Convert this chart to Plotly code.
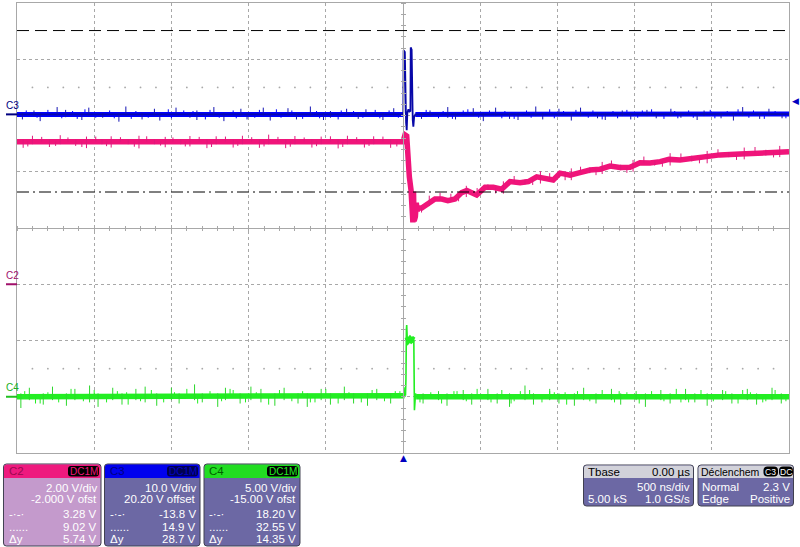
import numpy as np
import plotly.graph_objects as go

# ---------------- data (time in ns, values in volts) ----------------
# C3 (blue, 10 V/div, offset 20.2 V)
blue_t = [-2500, -1500, -500, 0, 2, 4, 12, 14, 20, 24, 28, 35, 42, 48, 50, 56, 58, 63, 67, 72, 80, 500, 1500, 2500]
blue_v = [0.0, 0.05, 0.0, 0.0, 0.3, 11.4, 11.1, 4.0, -1.5, -2.8, 0.2, 0.9, 0.5, 0.6, 11.9, 11.5, 5.0, -1.0, -2.2, -0.5, 0.0, 0.0, 0.05, 0.05]

# C2 (pink, 2 V/div, offset -2 V)
pink_t = [-2500, -2000, -1500, -1000, -500, 0, 13, 24, 30, 41, 52, 60, 64, 68, 72, 76, 80, 86, 92, 97,
          121, 162, 207, 251, 291, 337, 380, 413, 453, 477, 531, 585, 639, 693, 758, 812, 866, 931, 973,
          1017, 1082, 1146, 1211, 1276, 1341, 1405, 1470, 1535, 1600, 1665, 1723, 1794, 1891, 1988, 2053,
          2183, 2312, 2409, 2500]
pink_v = [5.07, 5.06, 5.08, 5.06, 5.07, 5.07, 5.31, 5.27, 4.42, 3.82, 3.35, 2.6, 2.2, 3.3, 2.25, 3.1, 2.4, 2.9, 2.6, 2.71,
          2.71, 2.89, 3.03, 3.03, 2.97, 3.03, 3.26, 3.33, 3.21, 3.17, 3.45, 3.45, 3.38, 3.65, 3.61, 3.65, 3.82, 3.74, 3.71,
          3.95, 3.88, 3.97, 4.06, 4.09, 4.20, 4.15, 4.16, 4.32, 4.31, 4.36, 4.44, 4.42, 4.49, 4.52, 4.60,
          4.63, 4.68, 4.71, 4.71]

# C4 (green, 5 V/div, offset -15 V)
green_t = [-2500, -1500, -500, 0, 10, 13, 16, 19, 22, 24, 27, 35, 45, 55, 65, 70, 72, 74, 77, 81, 85, 500, 1500, 2500]
green_v = [0.0, 0.02, 0.0, 0.0, 0.1, 0.85, 0.1, 1.5, 6.0, 6.38, 5.3, 5.0, 5.15, 5.0, 5.1, 5.05, 2.0, -1.2, -0.6, 0.3, 0.0, 0.0, 0.02, 0.0]

# larger visible noise spikes (time, low, high)
blue_spk_t = [-2465, -2390, -2350, -2240, -2185, -2080, -2035, -1945, -1840, -1795, -1690, -1610, -1575, -1470, -1380, -1335,
              -1225, -1160, -1050, -1010, -905, -860, -745, -690, -600, -515, -470, -365, -290, -240, -130, -60,
              120, 175, 290, 340, 455, 520, 600, 690, 745, 860, 905, 1010, 1090, 1150, 1260, 1310, 1420, 1475,
              1580, 1640, 1735, 1800, 1905, 1950, 2060, 2140, 2200, 2310, 2370, 2455]
blue_spk_lo = [-0.9, -0.3, -1.2, -0.3, -0.5, -1.0, -0.3, -0.6, -1.3, -0.3, -0.9, -0.3, -1.1, -0.3, -0.6, -1.0,
               -0.3, -1.2, -0.3, -0.9, -0.3, -1.1, -0.3, -0.9, -0.3, -1.0, -0.6, -0.3, -0.8, -0.3, -1.0, -0.3,
               -0.8, -0.3, -0.6, -0.9, -0.3, -1.2, -0.3, -0.8, -1.0, -0.3, -0.9, -0.3, -1.1, -0.3, -0.7, -1.0, -0.3, -0.9,
               -0.3, -0.7, -0.3, -0.6, -1.0, -0.3, -0.7, -1.1, -0.3, -0.8, -0.3, -0.7]
blue_spk_hi = [0.3, 0.7, 0.3, 1.3, 0.8, 0.3, 1.2, 0.3, 0.3, 1.4, 0.3, 1.0, 0.3, 1.2, 0.3, 0.7,
               1.3, 0.3, 1.0, 0.3, 1.2, 0.3, 1.1, 0.3, 1.4, 0.3, 0.6, 1.0, 0.3, 0.9, 0.3, 1.1,
               0.3, 0.7, 1.3, 0.3, 1.1, 0.3, 1.2, 0.3, 0.3, 1.4, 0.3, 1.0, 0.3, 1.2, 0.3, 0.3, 0.7, 0.3,
               0.8, 0.3, 1.0, 0.3, 0.3, 0.7, 0.3, 0.3, 1.3, 0.3, 1.0, 0.3]
# smaller spikes: time and tip value (segment from baseline 0 to tip)
blue_minor_t = [-2440, -2370, -2300, -2210, -2140, -2110, -2060, -1990, -1900, -1870,
                -1760, -1730, -1650, -1520, -1500, -1420, -1360, -1280, -1250, -1190,
                -1100, -1080, -960, -930, -820, -790, -720, -650, -560, -540,
                -420, -400, -320, -260, -180, -150, -90, -30,
                150, 230, 260, 320, 390, 420, 490, 560, 640, 660,
                720, 800, 830, 950, 980, 1040, 1120, 1200, 1230, 1290,
                1360, 1390, 1450, 1520, 1550, 1610, 1690, 1760, 1780, 1850,
                1880, 1990, 2020, 2100, 2170, 2240, 2270, 2340, 2410, 2480]
blue_minor_tip = [0.7, -0.6, 0.8, -0.7, 0.6, -0.8, 0.9, -0.6, 0.7, -0.7,
                  -0.8, 0.6, -0.6, 0.9, -0.7, 0.7, 0.6, -0.9, 0.8, -0.6,
                  0.7, -0.7, -0.6, 0.8, 0.9, -0.6, 0.7, -0.8, 0.6, -0.7,
                  -0.9, 0.7, 0.6, -0.6, 0.8, -0.7, 0.7, -0.6,
                  0.8, -0.7, 0.6, -0.8, 0.7, 0.9, -0.6, 0.7, -0.7, 0.6,
                  -0.8, 0.7, -0.6, 0.9, -0.7, 0.6, 0.8, -0.6, 0.7, -0.9,
                  0.6, -0.7, 0.8, -0.6, 0.7, 0.9, -0.8, 0.6, -0.7, 0.7,
                  -0.6, 0.8, -0.7, 0.6, 0.9, -0.6, 0.7, -0.8, 0.6, -0.7]

pink_spk_t = [-2460, -2400, -2290, -2220, -2120, -2050, -1950, -1890, -1780, -1710, -1610, -1540, -1440, -1380, -1270,
              -1210, -1100, -1040, -930, -870, -760, -700, -590, -530, -420, -360, -250, -190, -80,
              170, 310, 410, 550, 650, 790, 890, 1010, 1090, 1210, 1290, 1410, 1490, 1630, 1730, 1870, 1970,
              2110, 2210, 2350, 2440,
              -2430, -2340, -2250, -2170, -2080, -1990, -1920, -1830, -1740, -1660,
              -1570, -1490, -1410, -1320, -1240, -1150, -1070, -980, -900, -810,
              -730, -640, -560, -470, -390, -300, -220, -130, -40,
              120, 240, 360, 480, 600, 720, 840, 950, 1050, 1150, 1250, 1350, 1450, 1560, 1680, 1800, 1920,
              2040, 2160, 2280, 2400]
pink_spk_lo = [4.85, 4.98, 4.88, 4.98, 4.92, 4.84, 4.98, 4.86, 4.98, 4.83, 4.98, 4.87, 4.98, 4.90, 4.84,
               4.98, 4.86, 4.98, 4.85, 4.98, 4.84, 4.98, 4.86, 4.98, 4.83, 4.98, 4.86, 4.98, 4.85,
               2.78, 3.0, 3.10, 3.35, 3.22, 3.55, 3.58, 3.78, 3.70, 3.95, 3.92, 4.05, 4.00, 4.22, 4.22, 4.37, 4.30,
               4.52, 4.44, 4.58, 4.52,
               4.90, 5.07, 4.92, 5.07, 4.88, 5.07, 4.91, 5.07, 4.89, 5.07,
               4.93, 5.07, 4.90, 5.07, 4.88, 5.07, 4.92, 5.07, 4.90, 5.07,
               4.89, 5.07, 4.91, 5.07, 4.88, 5.07, 4.92, 5.07, 4.90,
               2.55, 3.03, 2.95, 3.20, 3.23, 3.63, 3.53, 3.73, 3.70, 3.97, 3.88, 4.19, 3.96, 4.32, 4.18, 4.43, 4.30,
               4.58, 4.42, 4.67, 4.51]
pink_spk_hi = [5.15, 5.28, 5.15, 5.30, 5.15, 5.25, 5.15, 5.26, 5.15, 5.28, 5.15, 5.24, 5.15, 5.27, 5.15,
               5.26, 5.15, 5.28, 5.15, 5.32, 5.15, 5.27, 5.15, 5.25, 5.15, 5.28, 5.15, 5.26, 5.15,
               3.15, 3.22, 3.50, 3.55, 3.66, 3.72, 4.02, 3.95, 4.12, 4.15, 4.35, 4.25, 4.42, 4.40, 4.66, 4.57, 4.74,
               4.70, 4.86, 4.78, 4.92,
               5.07, 5.24, 5.07, 5.22, 5.07, 5.25, 5.07, 5.23, 5.07, 5.26,
               5.07, 5.22, 5.07, 5.24, 5.07, 5.25, 5.07, 5.23, 5.07, 5.24,
               5.07, 5.22, 5.07, 5.26, 5.07, 5.23, 5.07, 5.25, 5.07,
               2.75, 3.25, 3.15, 3.42, 3.43, 3.85, 3.73, 3.95, 3.90, 4.18, 4.08, 4.40, 4.16, 4.54, 4.38, 4.65, 4.50,
               4.80, 4.62, 4.88, 4.71]

green_spk_t = [-2475, -2420, -2330, -2270, -2180, -2125, -2030, -1975, -1880, -1820, -1730, -1670, -1595, -1500, -1450,
               -1350, -1300, -1200, -1150, -1055, -985, -920, -830, -770, -680, -620, -530, -470, -380, -320, -230,
               -170, -80,
               130, 230, 285, 390, 445, 550, 610, 690, 790, 845, 950, 1010, 1110, 1170, 1250, 1350, 1410, 1510,
               1570, 1670, 1730, 1830, 1890, 1970, 2070, 2130, 2230, 2290, 2390, 2450]
green_spk_lo = [-1.0, -0.3, -0.7, -0.3, -0.8, -0.3, -0.5, -0.9, -0.3, -0.7, -0.3, -0.5, -0.8, -0.3, -0.6, -0.3, -0.5,
                -0.9, -0.3, -0.6, -0.3, -0.5, -0.8, -0.3, -0.6, -0.9, -0.3, -0.7, -0.3, -0.6, -0.8, -0.3, -0.6,
                -0.6, -0.3, -0.8, -0.3, -0.7, -0.3, -0.6, -0.9, -0.3, -0.7, -0.3, -0.6, -0.8, -0.3, -0.6, -0.3,
                -0.7, -0.3, -0.9, -0.3, -0.6, -0.3, -0.5, -0.8, -0.3, -0.6, -0.3, -0.7, -0.3, -0.6]
green_spk_hi = [0.3, 0.8, 0.3, 0.9, 0.3, 0.7, 1.0, 0.3, 0.8, 0.3, 0.7, 0.9, 0.3, 0.8, 0.3, 1.1, 0.3,
                0.3, 0.8, 0.3, 0.9, 0.7, 0.3, 0.8, 0.3, 0.3, 0.7, 0.3, 0.9, 0.3, 0.3, 0.7, 0.3,
                0.3, 0.5, 0.3, 0.6, 0.3, 0.7, 0.3, 0.3, 1.0, 0.3, 0.7, 0.3, 0.3, 0.8, 0.3, 0.7,
                0.3, 0.5, 0.3, 0.6, 0.3, 0.7, 0.3, 0.3, 0.6, 0.3, 0.7, 0.3, 0.8, 0.3]
green_minor_t = [-2450, -2380, -2300, -2230, -2150, -2070, -2000, -1920, -1850, -1780,
                 -1700, -1630, -1550, -1480, -1400, -1330, -1250, -1175, -1100, -1020,
                 -950, -870, -800, -720, -650, -570, -500, -420, -350, -270,
                 -200, -120, -50, -2350, -1790, -1120, -600, -20,
                 110, 180, 250, 330, 410, 480, 570, 640, 720, 760,
                 820, 900, 980, 1060, 1130, 1210, 1290, 1370, 1450, 1530,
                 1610, 1690, 1770, 1850, 1930, 2010, 2090, 2170, 2250, 2330,
                 2410, 2480, 350, 700, 1050, 1400, 1800, 2200, 2350, 950]
green_minor_tip = [0.5, -0.6, 0.4, -0.5, 0.7, -0.4, 0.6, -0.5, 0.5, -0.7,
                   -0.4, 0.6, -0.5, 0.4, 0.7, -0.6, 0.5, -0.4, 0.6, -0.5,
                   0.4, -0.7, 0.6, -0.4, 0.5, -0.5, 0.7, -0.6, 0.4, -0.5,
                   0.6, -0.4, 0.5, -0.6, 0.4, 0.7, -0.5, 0.5,
                   -0.5, 0.4, -0.6, 0.5, -0.4, 0.7, -0.5, 0.6, -0.4, 0.5,
                   0.6, -0.5, 0.4, -0.7, 0.5, -0.4, 0.6, -0.5, 0.4, -0.6,
                   0.5, -0.4, 0.7, -0.5, 0.6, -0.4, 0.5, -0.6, 0.4, -0.5,
                   0.6, -0.4, 0.5, -0.6, 0.4, 0.5, -0.5, 0.6, -0.4, 0.5]

# cursors (C2 volts)
cursor_a = 3.28   # dash-dot
cursor_b = 9.02   # dashed
trig_level_c3 = 2.3

# channel scale settings: volts/div and offset
ch = {
    "C2": dict(vdiv=2.0, ofs=-2.0),
    "C3": dict(vdiv=10.0, ofs=20.2),
    "C4": dict(vdiv=5.0, ofs=-15.0),
}

panel_rows = {
    "C2": ["2.00 V/div", "-2.000 V ofst", "3.28 V", "9.02 V", "5.74 V"],
    "C3": ["10.0 V/div", "20.20 V offset", "-13.8 V", "14.9 V", "28.7 V"],
    "C4": ["5.00 V/div", "-15.00 V ofst", "18.20 V", "32.55 V", "14.35 V"],
}

# ---------------- helpers ----------------
L, R, T, B = 17, 789, 3, 453
W, H = R - L, B - T


def px(x):
    return (x - L) / W


def py(y):
    return (B - y) / H


def P(x, y):
    return f"{px(x):.5f},{py(y):.5f}"


def rrect(x0, y0, x1, y1, r, top=True, bottom=True):
    rt = r if top else 0
    rb = r if bottom else 0
    return (f"M{P(x0 + rt, y0)} L{P(x1 - rt, y0)} Q{P(x1, y0)} {P(x1, y0 + rt)} "
            f"L{P(x1, y1 - rb)} Q{P(x1, y1)} {P(x1 - rb, y1)} L{P(x0 + rb, y1)} "
            f"Q{P(x0, y1)} {P(x0, y1 - rb)} L{P(x0, y0 + rt)} Q{P(x0, y0)} {P(x0 + rt, y0)} Z")


def vrange(name):
    c = ch[name]
    return [(-4 - c["ofs"] / c["vdiv"]) * c["vdiv"], (4 - c["ofs"] / c["vdiv"]) * c["vdiv"]]


def select(t, v, ranges):
    xs, ys = [], []
    for a, b in ranges:
        for ti, vi in zip(t, v):
            if a <= ti <= b:
                xs.append(ti)
                ys.append(vi)
        xs.append(None)
        ys.append(None)
    return xs, ys


def spikes(t, lo, hi):
    xs, ys = [], []
    for ti, l, h in zip(t, lo, hi):
        xs += [ti, ti, None]
        ys += [l, h, None]
    return xs, ys


def tips(t, tip):
    xs, ys = [], []
    for ti, v in zip(t, tip):
        xs += [ti, ti, None]
        ys += [0.0, v, None]
    return xs, ys


fig = go.Figure()

BLUE, BLUE_D = "#0000FF", "#1414B4"
PINK, PINK_D = "#F0147A", "#E0187C"
GREEN, GREEN_D = "#22EE22", "#2CD82C"

# grid dots rows at +-2.5 div
dot_t = np.arange(-2400, 2401, 100)
for yy in (2.5, -2.5):
    fig.add_trace(go.Scatter(x=dot_t, y=[yy] * len(dot_t), mode="markers",
                             marker=dict(size=1.8, color="#A8A8A8"), hoverinfo="skip",
                             xaxis="x", yaxis="y", showlegend=False))

# dummy traces to activate helper axes
fig.add_trace(go.Scatter(x=[None], y=[None], xaxis="x2", yaxis="y5", showlegend=False))
fig.add_trace(go.Scatter(x=[None], y=[None], xaxis="x3", yaxis="y6", showlegend=False))


def line(x, y, yaxis, color, w):
    fig.add_trace(go.Scatter(x=x, y=y, mode="lines", line=dict(color=color, width=w),
                             yaxis=yaxis, showlegend=False, connectgaps=False, hoverinfo="skip"))


# pink C2
line(pink_t, pink_v, "y2", PINK, 5.5)
sx, sy = spikes(pink_spk_t, pink_spk_lo, pink_spk_hi)
line(sx, sy, "y2", PINK_D, 1)

# blue C3
bx, by = select(blue_t, blue_v, [(-2500, 0), (80, 2500)])
line(bx, by, "y3", BLUE, 5)
sx, sy = spikes(blue_spk_t, blue_spk_lo, blue_spk_hi)
line(sx, sy, "y3", BLUE_D, 1)
sx, sy = tips(blue_minor_t, blue_minor_tip)
line(sx, sy, "y3", BLUE, 1)
line(blue_t, blue_v, "y3", "#0808A8", 1.8)

# green C4
line(green_t, green_v, "y4", GREEN, 1.6)
gx, gy = select(green_t, green_v, [(-2500, 10), (27, 70), (85, 2500)])
line(gx, gy, "y4", GREEN, 5.5)
sx, sy = spikes(green_spk_t, green_spk_lo, green_spk_hi)
line(sx, sy, "y4", GREEN_D, 1)
sx, sy = tips(green_minor_t, green_minor_tip)
line(sx, sy, "y4", GREEN, 1)

GRID = "#A8A8A8"
common_x = dict(range=[-2500, 2500], showticklabels=False, zeroline=False, fixedrange=True)
common_y = dict(range=[-4, 4], showticklabels=False, zeroline=False, fixedrange=True)

layout_shapes = []
# cursors on C2 scale
layout_shapes.append(dict(type="line", xref="paper", x0=0, x1=1, yref="y2", y0=cursor_b, y1=cursor_b,
                          line=dict(color="black", width=1, dash="12px,6px")))
layout_shapes.append(dict(type="line", xref="paper", x0=0, x1=1, yref="y2", y0=cursor_a, y1=cursor_a,
                          line=dict(color="black", width=1, dash="12px,4px,2px,4px")))

# ground markers on left
for name, yref, col in (("C3", "y3", "#000080"), ("C2", "y2", "#A0106A"), ("C4", "y4", "#20C020")):
    layout_shapes.append(dict(type="line", xref="paper", x0=px(6), x1=px(17), yref=yref, y0=0, y1=0,
                              line=dict(color=col, width=2)))

annotations = []


def txt(x, y, s, anchor="left", color="white", size=11, family="Liberation Sans", xref="paper", yref="paper",
        yshift=0):
    annotations.append(dict(x=x, y=y, xref=xref, yref=yref, text=s, showarrow=False, xanchor=anchor,
                            yanchor="middle", font=dict(color=color, size=size, family=family), yshift=yshift))


for name, yref, col in (("C3", "y3", "#000080"), ("C2", "y2", "#A0106A"), ("C4", "y4", "#20B020")):
    txt(px(4), 0, name, "left", col, 10, xref="paper", yref=yref, yshift=9)

# trigger markers
txt(0, py(458), "▲", "center", "#0000C0", 9, "DejaVu Sans", xref="x")
txt(px(790), trig_level_c3, "◀", "left", "#0000C0", 9, "DejaVu Sans", yref="y3")

# channel panels
panels = [("C2", 3.5, 101, "#EE1A7E", "#C49ACC", "#9A0A50", "#000000", PINK),
          ("C3", 104.5, 200, "#0000EE", "#6C68A4", "#000080", "#000050", "#0000C8"),
          ("C4", 204, 300, "#22DD22", "#6C68A4", "#006000", "#000000", "#22EE22")]
py0, ph, pyb = 464, 478, 546
row_y = [487.5, 499, 514, 526.5, 539]
left_lbl = ["", "", "-·-·", "......", "Δy"]
for name, x0, x1, hcol, bcol, tcol, pillbg, pilltxt in panels:
    layout_shapes.append(dict(type="path", xref="paper", yref="paper", path=rrect(x0, py0, x1, pyb, 3),
                              fillcolor=bcol, line=dict(color="#404050", width=1)))
    layout_shapes.append(dict(type="path", xref="paper", yref="paper", path=rrect(x0 + 0.5, py0 + 0.5, x1 - 0.5, ph, 3, bottom=False),
                              fillcolor=hcol, line=dict(width=0)))
    layout_shapes.append(dict(type="path", xref="paper", yref="paper", path=rrect(x1 - 33, 466, x1 - 2, 476.5, 3),
                              fillcolor=pillbg, line=dict(width=0)))
    txt(px(x0 + 3), py(471), name, "left", tcol, 11.5)
    txt(px(x1 - 17.5), py(471.3), "DC1M", "center", pilltxt, 10)
    for i, s in enumerate(panel_rows[name]):
        txt(px(x1 - 2), py(row_y[i]), s, "right", "white", 11.5)
        if left_lbl[i]:
            txt(px(x0 + 3), py(row_y[i]), left_lbl[i], "left", "white", 11.5)

# timebase / trigger panels
for x0, x1 in ((583.5, 693.5), (698, 793.5)):
    layout_shapes.append(dict(type="path", xref="paper", yref="paper", path=rrect(x0, 465, x1, 506, 3),
                              fillcolor="#6C68A4", line=dict(color="#404050", width=1)))
    layout_shapes.append(dict(type="path", xref="paper", yref="paper", path=rrect(x0 + 0.5, 465.5, x1 - 0.5, 478, 3, bottom=False),
                              fillcolor="#D2D2DA", line=dict(width=0)))
for x0, x1, s in ((763.5, 778, "C3"), (779, 793, "DC")):
    layout_shapes.append(dict(type="path", xref="paper", yref="paper", path=rrect(x0, 466.5, x1, 476.5, 4),
                              fillcolor="#000000", line=dict(width=0)))
    txt(px((x0 + x1) / 2), py(471.5), s, "center", "white", 8.5)

txt(px(586), py(471.5), "Tbase", "left", "#000000", 11.5)
txt(px(692), py(471.5), "0.00 µs", "right", "#000000", 11.5)
txt(px(692), py(487), "500 ns/div", "right", "white", 11.5)
txt(px(586), py(498.5), "5.00 kS", "left", "white", 11.5)
txt(px(692), py(498.5), "1.0 GS/s", "right", "white", 11.5)
txt(px(699), py(471.5), "Déclenchem", "left", "#000000", 10.5)
txt(px(700), py(487), "Normal", "left", "white", 11.5)
txt(px(792), py(487), "2.3 V", "right", "white", 11.5)
txt(px(700), py(498.5), "Edge", "left", "white", 11.5)
txt(px(792), py(498.5), "Positive", "right", "white", 11.5)

fig.update_layout(
    width=800, height=547,
    margin=dict(l=L, r=800 - R, t=T, b=547 - B, pad=0),
    paper_bgcolor="white", plot_bgcolor="white",
    showlegend=False,
    xaxis=dict(**common_x, domain=[0, 1], showgrid=True, gridcolor=GRID, griddash="dot", gridwidth=1,
               dtick=500, tick0=0, showline=True, linecolor=GRID, mirror=True, ticks=""),
    yaxis=dict(**common_y, domain=[0, 1], showgrid=True, gridcolor=GRID, griddash="dot", gridwidth=1,
               dtick=1, tick0=0, showline=True, linecolor=GRID, mirror=True, ticks=""),
    xaxis2=dict(**common_x, overlaying="x", anchor="free", position=0.5, side="bottom", showgrid=False,
                showline=True, linecolor=GRID, ticks="outside", ticklen=2, tickcolor=GRID, dtick=100, tick0=0),
    xaxis3=dict(**common_x, overlaying="x", anchor="free", position=0.5, side="top", showgrid=False,
                showline=False, ticks="outside", ticklen=2, tickcolor=GRID, dtick=100, tick0=0),
    yaxis5=dict(**common_y, overlaying="y", anchor="free", position=0.5, side="left", showgrid=False,
                showline=True, linecolor=GRID, ticks="outside", ticklen=2, tickcolor=GRID, dtick=0.2, tick0=0),
    yaxis6=dict(**common_y, overlaying="y", anchor="free", position=0.5, side="right", showgrid=False,
                showline=False, ticks="outside", ticklen=2, tickcolor=GRID, dtick=0.2, tick0=0),
    yaxis2=dict(range=vrange("C2"), overlaying="y", visible=False, fixedrange=True),
    yaxis3=dict(range=vrange("C3"), overlaying="y", visible=False, fixedrange=True),
    yaxis4=dict(range=vrange("C4"), overlaying="y", visible=False, fixedrange=True),
    shapes=layout_shapes,
    annotations=annotations,
)

fig.write_html("out.html", config={"displayModeBar": False},
               post_script="document.body.style.margin='0';document.body.style.padding='0';")
